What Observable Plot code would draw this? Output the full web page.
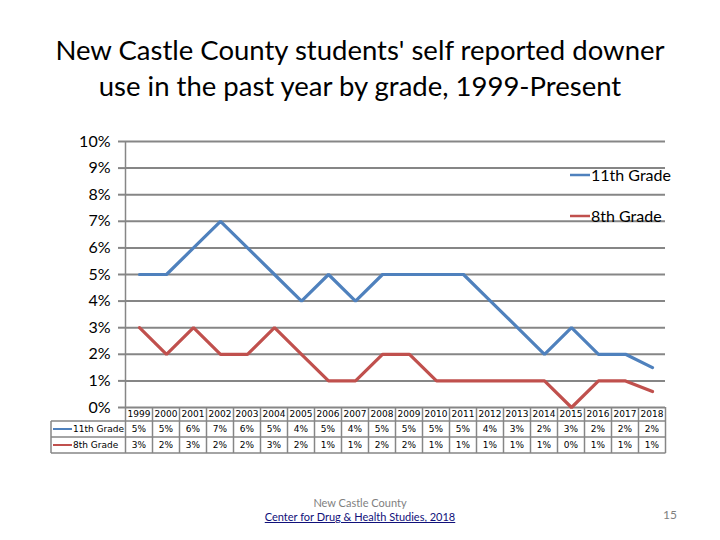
<!DOCTYPE html>
<html><head><meta charset="utf-8">
<script src="https://cdn.jsdelivr.net/npm/d3@7"></script>
<script src="https://cdn.jsdelivr.net/npm/@observablehq/plot@0.6"></script>
<style>
body{margin:0;background:#fff;width:720px;height:540px;overflow:hidden;position:relative;font-family:Lato,"Open Sans",sans-serif;}
#title{height:120px;box-sizing:border-box;padding-top:32px;text-align:center;font-size:27.5px;line-height:36px;color:#000;}
#chart{height:345px}
.foot{position:absolute;white-space:nowrap;}
</style></head><body>
<div id="title">New Castle County students' self reported downer<br>use in the past year by grade, 1999-Present</div>
<div id="chart"></div>
<div class="foot" style="left:0;width:720px;top:496px;text-align:center;font-size:11px;color:#7f7f7f;">New Castle County</div>
<div class="foot" style="left:0;width:720px;top:510px;text-align:center;font-size:11px;color:#10107a;"><span style="text-decoration:underline;">Center for Drug &amp; Health Studies, 2018</span></div>
<div class="foot" style="left:663px;top:507px;font-size:12px;color:#7f7f7f;">15</div>
<script>
const years = ["1999","2000","2001","2002","2003","2004","2005","2006","2007","2008","2009","2010","2011","2012","2013","2014","2015","2016","2017","2018"];
const grade11 = [5,5,6,7,6,5,4,5,4,5,5,5,5,4,3,2,3,2,2,1.5];
const grade8  = [3,2,3,2,2,3,2,1,1,2,2,1,1,1,1,1,0,1,1,0.6];
const seriesNames = ["11th Grade","8th Grade"];
const seriesColors = ["#4F81BD","#C0504D"];
const yTicks = [0,1,2,3,4,5,6,7,8,9,10];

const rows = [grade11, grade8];
const data = [];
rows.forEach((vals, s) => vals.forEach((v, i) => data.push({series: seriesNames[s], year: years[i], v})));

const chart = Plot.plot({
  width: 720, height: 345,
  marginTop: 21, marginBottom: 58, marginLeft: 125, marginRight: 55,
  style: {fontFamily: "Lato, 'Open Sans', sans-serif", fontSize: "16px", color: "#000", background: "transparent"},
  x: {type: "point", domain: years, padding: 0.5, axis: null},
  y: {domain: [0, 10], axis: null},
  color: {domain: seriesNames, range: seriesColors},
  marks: [
    Plot.ruleY(yTicks, {stroke: "#868686", strokeWidth: 2}),
    Plot.axisY({ticks: yTicks, tickFormat: d => d + "%", tickSize: 7, tickPadding: 8, stroke: "#868686", strokeWidth: 2, fill: "#000", fontSize: 16, label: null}),
    Plot.line(data, {x: "year", y: "v", z: "series", stroke: "series", strokeWidth: 3.2, strokeLinejoin: "miter"})
  ]
});
document.getElementById("chart").appendChild(chart);

const xs = chart.scale("x"), ys = chart.scale("y");
const X = d => xs.apply(d), Y = d => ys.apply(d);
const half = (X(years[1]) - X(years[0])) / 2;
const left = X(years[0]) - half, right = X(years[years.length - 1]) + half;
const svg = d3.select(chart);
const g = svg.append("g").attr("stroke", "#868686").attr("stroke-width", 1.5);
const y0 = Y(0), r1 = y0 + 14, r2 = r1 + 16, r3 = r2 + 16;
const tabLeft = 51;
// axis line
g.append("line").attr("x1", left).attr("x2", left).attr("y1", Y(10)).attr("y2", r3);
// horizontal table lines
[r1, r2, r3].forEach(yy => g.append("line").attr("x1", tabLeft).attr("x2", right).attr("y1", yy).attr("y2", yy));
g.append("line").attr("x1", tabLeft).attr("x2", tabLeft).attr("y1", r1).attr("y2", r3);
years.forEach(yr => {
  const xr = X(yr) + half;
  g.append("line").attr("x1", xr).attr("x2", xr).attr("y1", y0).attr("y2", r3);
});
const tf = "'DejaVu Sans', sans-serif";
const tg = svg.append("g").attr("font-family", tf).attr("font-size", 9).attr("fill", "#000").attr("text-anchor", "middle");
years.forEach(yr => tg.append("text").attr("x", X(yr)).attr("y", (y0 + r1) / 2).attr("dy", "0.35em").text(yr));
const rowMid = [(r1 + r2) / 2, (r2 + r3) / 2];
rows.forEach((vals, s) => {
  vals.forEach((v, i) => tg.append("text").attr("x", X(years[i])).attr("y", rowMid[s]).attr("dy", "0.35em").text(Math.round(v) + "%"));
  svg.append("line").attr("x1", tabLeft + 2).attr("x2", tabLeft + 21).attr("y1", rowMid[s]).attr("y2", rowMid[s]).attr("stroke", seriesColors[s]).attr("stroke-width", 2);
  svg.append("text").attr("x", tabLeft + 22).attr("y", rowMid[s]).attr("dy", "0.35em").attr("text-anchor", "start").attr("font-family", tf).attr("font-size", 9).text(seriesNames[s]);
});
// legend
const legY = [55, 96];
seriesNames.forEach((n, s) => {
  svg.append("line").attr("x1", 570).attr("x2", 590).attr("y1", legY[s]).attr("y2", legY[s]).attr("stroke", seriesColors[s]).attr("stroke-width", 2.5);
  svg.append("text").attr("x", 591).attr("y", legY[s]).attr("dy", "0.35em").attr("text-anchor", "start").attr("font-size", 16).attr("fill", "#000").text(n);
});
</script>
</body></html>
